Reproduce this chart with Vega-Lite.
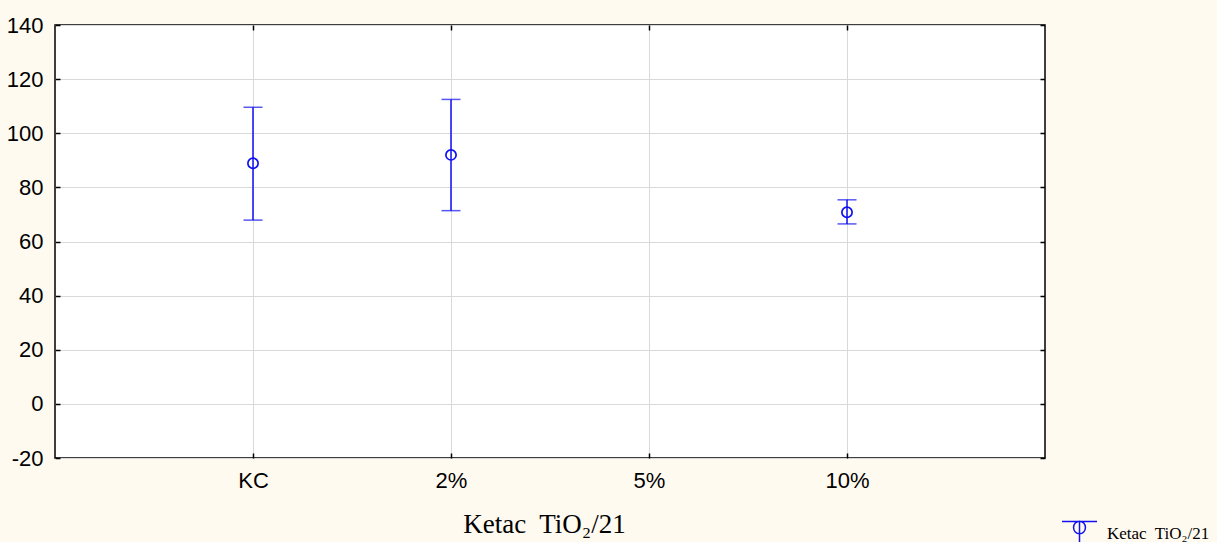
{
  "$schema": "https://vega.github.io/schema/vega-lite/v6.json",
  "autosize": "none",
  "width": 990,
  "height": 433,
  "padding": {"left": 55, "top": 25, "right": 172, "bottom": 84},
  "background": "#FFFAF0",
  "config": {
    "view": {"fill": "white", "stroke": "black", "strokeWidth": 1.5},
    "axis": {
      "domain": false,
      "tickColor": "black",
      "tickWidth": 1.5,
      "tickSize": -5,
      "gridColor": "#D9D9D9",
      "gridWidth": 1,
      "labelFont": "Liberation Sans",
      "labelFontSize": 22,
      "labelColor": "black",
      "titleFont": "Liberation Serif",
      "titleFontSize": 27,
      "titleFontWeight": "normal",
      "titleColor": "black"
    }
  },
  "data": {
    "values": [
      {"group": "KC", "mean": 88.9, "lo": 67.9, "hi": 109.6},
      {"group": "2%", "mean": 92.0, "lo": 71.4, "hi": 112.5},
      {"group": "10%", "mean": 70.8, "lo": 66.5, "hi": 75.4}
    ]
  },
  "layer": [
    {
      "mark": {"type": "rule", "color": "#1010F0", "strokeWidth": 1.5},
      "encoding": {
        "x": {
          "field": "group", "type": "nominal",
          "scale": {"type": "point", "domain": ["KC", "2%", "5%", "10%"], "padding": 1},
          "axis": {"orient": "bottom", "title": "Ketac\u00a0 TiO₂/21", "grid": true, "labelAngle": 0, "labelPadding": 17, "titlePadding": 20, "titleX": 489}
        },
        "y": {
          "field": "lo", "type": "quantitative",
          "scale": {"domain": [-20, 140], "nice": false, "zero": false},
          "axis": {"orient": "left", "title": null, "grid": true, "values": [-20, 0, 20, 40, 60, 80, 100, 120, 140], "labelPadding": 17, "labelExpr": "'' + datum.value"}
        },
        "y2": {"field": "hi"}
      }
    },
    {
      "mark": {"type": "tick", "color": "#1010F0", "size": 19, "thickness": 1.5},
      "encoding": {
        "x": {"field": "group", "type": "nominal", "scale": {"type": "point", "domain": ["KC", "2%", "5%", "10%"], "padding": 1}, "axis": null},
        "y": {"field": "hi", "type": "quantitative", "scale": {"domain": [-20, 140], "nice": false, "zero": false}, "axis": null}
      }
    },
    {
      "mark": {"type": "tick", "color": "#1010F0", "size": 19, "thickness": 1.5},
      "encoding": {
        "x": {"field": "group", "type": "nominal", "scale": {"type": "point", "domain": ["KC", "2%", "5%", "10%"], "padding": 1}, "axis": null},
        "y": {"field": "lo", "type": "quantitative", "scale": {"domain": [-20, 140], "nice": false, "zero": false}, "axis": null}
      }
    },
    {
      "mark": {"type": "point", "shape": "circle", "filled": false, "size": 105, "strokeWidth": 1.7, "opacity": 1},
      "encoding": {
        "x": {"field": "group", "type": "nominal", "scale": {"type": "point", "domain": ["KC", "2%", "5%", "10%"], "padding": 1},
          "axis": {"orient": "top", "labels": false, "title": null, "grid": false}},
        "y": {"field": "mean", "type": "quantitative", "scale": {"domain": [-20, 140], "nice": false, "zero": false},
          "axis": {"orient": "right", "labels": false, "title": null, "grid": false, "values": [-20, 0, 20, 40, 60, 80, 100, 120, 140]}},
        "color": {
          "datum": "Ketac\u00a0 TiO₂/21",
          "type": "nominal",
          "scale": {"range": ["#1010F0"]},
          "legend": {
            "orient": "none",
            "legendX": 1006,
            "legendY": 490,
            "title": null,
            "padding": 0,
            "symbolType": "M-1,-0.68H1M0,-0.68V1.2M0.34,-0.34A0.34,0.36 0 1,1 -0.34,-0.34A0.34,0.36 0 1,1 0.34,-0.34",
            "symbolSize": 1225,
            "symbolStrokeWidth": 1.5,
            "symbolFillColor": "transparent",
            "symbolStrokeColor": "#1010F0",
            "labelFont": "Liberation Serif",
            "labelFontSize": 17,
            "labelColor": "black",
            "labelOffset": 9
          }
        }
      }
    }
  ],
  "resolve": {"axis": {"x": "independent", "y": "independent"}}
}
